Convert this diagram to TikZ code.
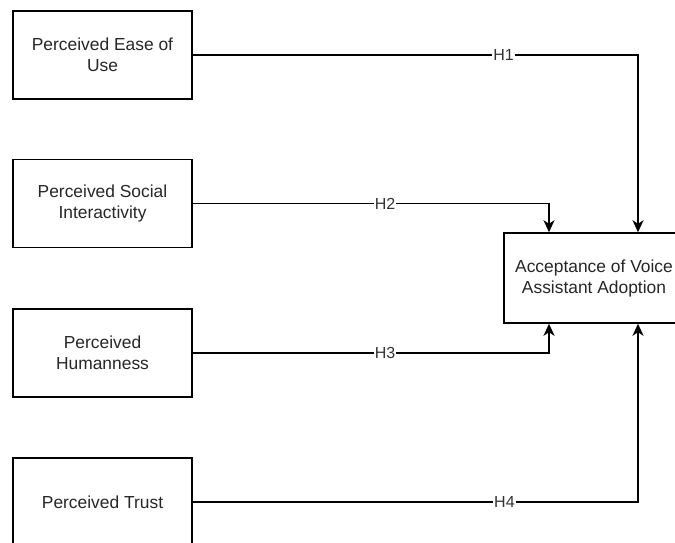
\documentclass[tikz,border=0pt]{standalone}
\usepackage{fontspec}
\setmainfont{Liberation Sans}
\usetikzlibrary{arrows.meta}
\begin{document}
\begin{tikzpicture}[x=1pt,y=-1pt,
  box/.style={draw, line width=1.5pt, minimum width=179pt, minimum height=88pt, align=center, inner sep=2pt, font=\fontsize{17.4}{21}\selectfont, text=black!85},
  conn/.style={line width=1.5pt, -{Stealth[length=12pt,width=11pt,inset=3.5pt]}},
  hlab/.style={fill=white, inner sep=1pt, font=\fontsize{16}{18}\selectfont, text=black!80}]
\useasboundingbox (0,0) rectangle (675,542);
\clip (0,0) rectangle (675,542);
\node[box] (b1) at (102.5,55) {Perceived Ease of\\Use};
\node[box] (b2) at (102.5,203.5) {Perceived Social\\Interactivity};
\node[box] (b3) at (102.5,353) {Perceived\\Humanness};
\node[box] (b4) at (102.5,502) {Perceived Trust};
\node[box, minimum width=180pt, minimum height=90pt] (t) at (594,278) {Acceptance of Voice\\Assistant Adoption};
\draw[conn] (b1.east) -| node[hlab, pos=0.349] {H1} ([xshift=44pt]t.north);
\draw[conn] (b2.east) -| node[hlab, pos=0.27] {H2} ([xshift=-45pt]t.north);
\draw[conn] (b3.east) -| node[hlab, pos=0.27] {H3} ([xshift=-45pt]t.south);
\draw[conn] (b4.east) -| node[hlab, pos=0.35] {H4} ([xshift=44pt]t.south);
\end{tikzpicture}
\end{document}
